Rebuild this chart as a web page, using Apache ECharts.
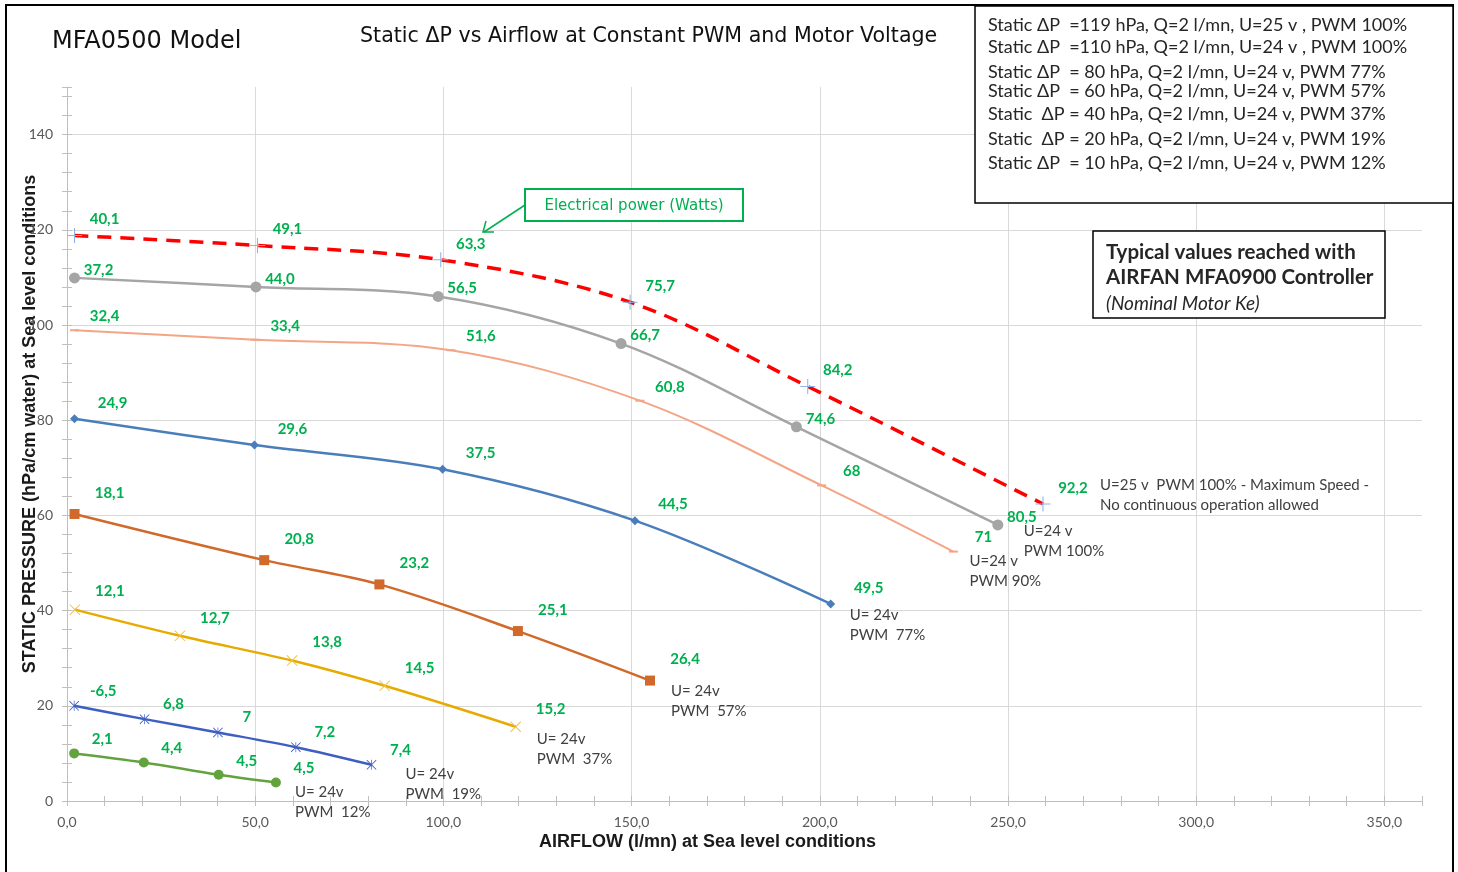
<!DOCTYPE html>
<html><head><meta charset="utf-8">
<script src="https://cdn.jsdelivr.net/npm/echarts@6/dist/echarts.min.js"></script>
<style>html,body{margin:0;padding:0;background:#fff}#c{width:1458px;height:872px}</style>
</head><body><div id="c"></div>
<script>
// ---------- tick labels ----------
const xTickLabels = ['0,0','50,0','100,0','150,0','200,0','250,0','300,0','350,0'];
const yTickLabels = ['0','20','40','60','80','100','120','140'];

// ---------- series: airflow (l/mn), static pressure (hPa), electrical power (W) ----------
// U=25 v PWM 100%
const flowU25P100 = [2, 50.6, 99.3, 149.6, 196.8, 259.3];
const presU25P100 = [118.8, 116.7, 113.7, 104.8, 87.1, 62.4];
const wattU25P100 = ['40,1','49,1','63,3','75,7','84,2','92,2'];
// U=24 v PWM 100%
const flowP100 = [2, 50.2, 98.6, 147.2, 193.8, 247.3];
const presP100 = [109.9, 108, 106, 96.1, 78.6, 58];
const wattP100 = ['37,2','44,0','56,5','66,7','74,6','80,5'];
// U=24 v PWM 90%
const flowP90 = [2, 50, 102, 152.2, 200.5, 235.5];
const presP90 = [98.9, 96.9, 94.7, 84.1, 66.3, 52.4];
const wattP90 = ['32,4','33,4','51,6','60,8','68','71'];
// U=24 v PWM 77%
const flowP77 = [2, 49.8, 99.8, 150.9, 202.9];
const presP77 = [80.3, 74.8, 69.7, 58.9, 41.4];
const wattP77 = ['24,9','29,6','37,5','44,5','49,5'];
// U=24 v PWM 57%
const flowP57 = [2, 52.4, 83, 119.8, 154.9];
const presP57 = [60.3, 50.6, 45.5, 35.7, 25.3];
const wattP57 = ['18,1','20,8','23,2','25,1','26,4'];
// U=24 v PWM 37%
const flowP37 = [2.1, 30, 59.8, 84.4, 119.2];
const presP37 = [40.2, 34.7, 29.5, 24.2, 15.6];
const wattP37 = ['12,1','12,7','13,8','14,5','15,2'];
// U=24 v PWM 19%
const flowP19 = [1.9, 20.6, 40.1, 60.8, 80.9];
const presP19 = [20, 17.2, 14.4, 11.3, 7.6];
const wattP19 = ['-6,5','6,8','7','7,2','7,4'];
// U=24 v PWM 12%
const flowP12 = [1.9, 20.4, 40.3, 55.5];
const presP12 = [10, 8.1, 5.5, 3.9];
const wattP12 = ['2,1','4,4','4,5','4,5'];

// ---------- texts ----------
const endNotes = {
  u25: 'U=25 v  PWM 100% - Maximum Speed -\nNo continuous operation allowed',
  p100: 'U=24 v\nPWM 100%', p90: 'U=24 v\nPWM 90%', p77: 'U= 24v\nPWM  77%',
  p57: 'U= 24v\nPWM  57%', p37: 'U= 24v\nPWM  37%', p19: 'U= 24v\nPWM  19%', p12: 'U= 24v\nPWM  12%'
};
const boxLines = [
  'Static \u0394P  =119 hPa, Q=2 l/mn, U=25 v , PWM 100%',
  'Static \u0394P  =110 hPa, Q=2 l/mn, U=24 v , PWM 100%',
  'Static \u0394P  = 80 hPa, Q=2 l/mn, U=24 v, PWM 77%',
  'Static \u0394P  = 60 hPa, Q=2 l/mn, U=24 v, PWM 57%',
  'Static  \u0394P = 40 hPa, Q=2 l/mn, U=24 v, PWM 37%',
  'Static  \u0394P = 20 hPa, Q=2 l/mn, U=24 v, PWM 19%',
  'Static \u0394P  = 10 hPa, Q=2 l/mn, U=24 v, PWM 12%'
];

const CAL = 'Lato';
const PLUS = 'path://M9.3,0H10.7V9.3H20V10.7H10.7V20H9.3V10.7H0V9.3H9.3Z';
const XMARK = 'path://M0,1.2L1.2,0L10,8.8L18.8,0L20,1.2L11.2,10L20,18.8L18.8,20L10,11.2L1.2,20L0,18.8L8.8,10Z';
const STAR = 'path://M0,1.2L1.2,0L10,8.8L18.8,0L20,1.2L11.2,10L20,18.8L18.8,20L10,11.2L1.2,20L0,18.8L8.8,10Z M9.3,0H10.7V20H9.3Z';

function mk(o) {
  const n = o.xs.length;
  return {
    type: 'line', name: o.name, z: o.z || 3,
    data: o.xs.map((x, i) => [x, o.ys[i], o.ws[i]]),
    smooth: o.smooth == null ? 0.35 : o.smooth,
    symbol: o.symbol, symbolSize: o.symbolSize,
    itemStyle: { color: o.mcolor || o.color },
    lineStyle: { color: o.color, width: o.width || 2.5, type: o.ltype || 'solid' },
    label: { show: true, position: 'inside', offset: o.loff, formatter: p => p.value[2],
      color: '#00B050', fontWeight: 'bold', fontSize: 15, fontFamily: CAL },
    markPoint: {
      symbol: 'circle', symbolSize: 1, itemStyle: { color: 'rgba(0,0,0,0)' }, silent: true, animation: false,
      data: [{ coord: [o.xs[n - 1], o.ys[n - 1]],
        label: { show: true, position: 'inside', align: 'left', verticalAlign: 'top', offset: o.noff,
          formatter: o.note, color: '#404040', fontSize: 15, lineHeight: 20, fontFamily: CAL } }]
    },
    animation: false
  };
}

const series = [
  mk({ name: 'U=24 v PWM 12%', xs: flowP12, ys: presP12, ws: wattP12, color: '#62A33F', symbol: 'circle', symbolSize: 10, loff: [28, -14], note: endNotes.p12, noff: [19, 0] }),
  mk({ name: 'U=24 v PWM 19%', xs: flowP19, ys: presP19, ws: wattP19, color: '#3E5FC2', symbol: STAR, symbolSize: 10, loff: [29, -15], note: endNotes.p19, noff: [34, -1] }),
  mk({ name: 'U=24 v PWM 37%', xs: flowP37, ys: presP37, ws: wattP37, color: '#E6AA00', mcolor: '#F2C040', symbol: XMARK, symbolSize: 11, loff: [35, -18], note: endNotes.p37, noff: [21, 2] }),
  mk({ name: 'U=24 v PWM 57%', xs: flowP57, ys: presP57, ws: wattP57, color: '#D0692A', symbol: 'rect', symbolSize: 10, loff: [35, -21], note: endNotes.p57, noff: [21, 1] }),
  mk({ name: 'U=24 v PWM 77%', xs: flowP77, ys: presP77, ws: wattP77, color: '#4A7EBB', symbol: 'diamond', symbolSize: 9, loff: [38, -16], note: endNotes.p77, noff: [19, 1] }),
  mk({ name: 'U=24 v PWM 90%', xs: flowP90, ys: presP90, ws: wattP90, color: '#F3A585', width: 2, symbol: 'rect', symbolSize: [9, 2], loff: [30, -14], note: endNotes.p90, noff: [16, 0] }),
  mk({ name: 'U=24 v PWM 100%', xs: flowP100, ys: presP100, ws: wattP100, color: '#A5A5A5', symbol: 'circle', symbolSize: 11, loff: [24, -8], note: endNotes.p100, noff: [26, -4] }),
  mk({ name: 'U=25 v PWM 100%', xs: flowU25P100, ys: presU25P100, ws: wattU25P100, color: '#FF0000', mcolor: '#8DB4E2', width: 3.5, ltype: [14, 9], symbol: PLUS, symbolSize: 15, loff: [30, -16], note: endNotes.u25, noff: [57, -29], z: 5 })
];

const axisGray = '#BFBFBF';
const grid = { left: 67, right: 36, top: 87, bottom: 71, outerBoundsMode: 'none', containLabel: false };
const tickAxisX = inside => ({ type: 'value', position: 'bottom', min: 0, max: 360, interval: 10,
  axisLine: { show: false, onZero: false }, axisLabel: { show: false }, splitLine: { show: false },
  axisTick: { show: true, inside, length: 5, lineStyle: { color: axisGray } } });
const tickAxisY = inside => ({ type: 'value', position: 'left', min: 0, max: 150, interval: 4,
  axisLine: { show: false, onZero: false }, axisLabel: { show: false }, splitLine: { show: false },
  axisTick: { show: true, inside, length: 5, lineStyle: { color: axisGray } } });

const option = {
  backgroundColor: '#ffffff',
  animation: false,
  grid,
  xAxis: [{
    type: 'value', position: 'bottom', min: 0, max: 360, interval: 50,
    name: 'AIRFLOW (l/mn) at Sea level conditions', nameLocation: 'middle', nameGap: 32, nameMoveOverlap: false,
    nameTextStyle: { color: '#1a1a1a', fontSize: 18, fontWeight: 'bold', fontFamily: 'Liberation Sans', padding: [0, 74, 0, 0] },
    axisLine: { show: true, onZero: false, lineStyle: { color: axisGray } },
    axisTick: { show: false },
    axisLabel: { color: '#595959', fontSize: 14, fontFamily: CAL, margin: 14, showMaxLabel: false,
      formatter: v => (v % 50 === 0 ? xTickLabels[v / 50] : '') },
    splitLine: { show: true, showMaxLine: false, lineStyle: { color: '#D9D9D9' } }
  }, tickAxisX(false), tickAxisX(true)],
  yAxis: [{
    type: 'value', position: 'left', min: 0, max: 150, interval: 20,
    name: 'STATIC PRESSURE (hPa/cm water) at Sea level conditions', nameLocation: 'middle', nameGap: 28, nameMoveOverlap: false,
    nameTextStyle: { color: '#1a1a1a', fontSize: 18, fontWeight: 'bold', fontFamily: 'Liberation Sans', padding: [0, 0, 0, 40] },
    axisLine: { show: true, onZero: false, lineStyle: { color: axisGray } },
    axisTick: { show: false },
    axisLabel: { color: '#595959', fontSize: 14, fontFamily: CAL, margin: 14, showMaxLabel: false,
      formatter: v => (v % 20 === 0 ? yTickLabels[v / 20] : '') },
    splitLine: { show: true, showMaxLine: false, showMinLine: false, lineStyle: { color: '#D9D9D9' } }
  }, tickAxisY(false), tickAxisY(true)],
  series,
  graphic: [
    { type: 'rect', z: 100, silent: true, shape: { x: 6, y: 5, width: 1447, height: 882 }, style: { fill: 'none', stroke: '#000', lineWidth: 2 } },
    { type: 'text', z: 100, x: 52, y: 42, style: { text: 'MFA0500 Model', font: '500 24px "DejaVu Sans"', fill: '#111', align: 'left', verticalAlign: 'middle' } },
    { type: 'text', z: 100, x: 360, y: 37, style: { text: 'Static \u0394P vs Airflow at Constant PWM and Motor Voltage', font: '20.6px "DejaVu Sans"', fill: '#111', align: 'left', verticalAlign: 'middle' } },
    { type: 'rect', z: 100, shape: { x: 975, y: 6, width: 478, height: 197 }, style: { fill: '#fff', stroke: '#000', lineWidth: 1.5 } },
    ...boxLines.map((t, i) => ({ type: 'text', z: 101, x: 988, y: [25, 47, 72, 91, 114, 139, 163][i],
      style: { text: t, font: '18px Lato', fill: '#262626', align: 'left', verticalAlign: 'middle' } })),
    { type: 'rect', z: 100, shape: { x: 1093, y: 231, width: 292, height: 87 }, style: { fill: '#fff', stroke: '#000', lineWidth: 1.5 } },
    { type: 'text', z: 101, x: 1106, y: 252, style: { text: 'Typical values reached with', font: 'bold 20.5px Lato', fill: '#262626', align: 'left', verticalAlign: 'middle' } },
    { type: 'text', z: 101, x: 1106, y: 277, style: { text: 'AIRFAN MFA0900 Controller', font: 'bold 20.5px Lato', fill: '#262626', align: 'left', verticalAlign: 'middle' } },
    { type: 'text', z: 101, x: 1106, y: 304, style: { text: '(Nominal Motor Ke)', font: 'italic 19px Lato', fill: '#262626', align: 'left', verticalAlign: 'middle' } },
    { type: 'rect', z: 100, shape: { x: 525, y: 189, width: 218, height: 32 }, style: { fill: '#fff', stroke: '#00B050', lineWidth: 2 } },
    { type: 'text', z: 101, x: 634, y: 206, style: { text: 'Electrical power (Watts)', font: '15px "DejaVu Sans"', fill: '#00B050', align: 'center', verticalAlign: 'middle' } },
    { type: 'polyline', z: 100, shape: { points: [[525, 205], [484, 232]] }, style: { stroke: '#00B050', lineWidth: 1.5, fill: null } },
    { type: 'polyline', z: 100, shape: { points: [[486, 221], [483, 232], [494, 232]] }, style: { stroke: '#00B050', lineWidth: 1.5, fill: null } }
  ]
};

const chart = echarts.init(document.getElementById('c'), null, { renderer: 'canvas' });
chart.setOption(option);
</script>
</body></html>
